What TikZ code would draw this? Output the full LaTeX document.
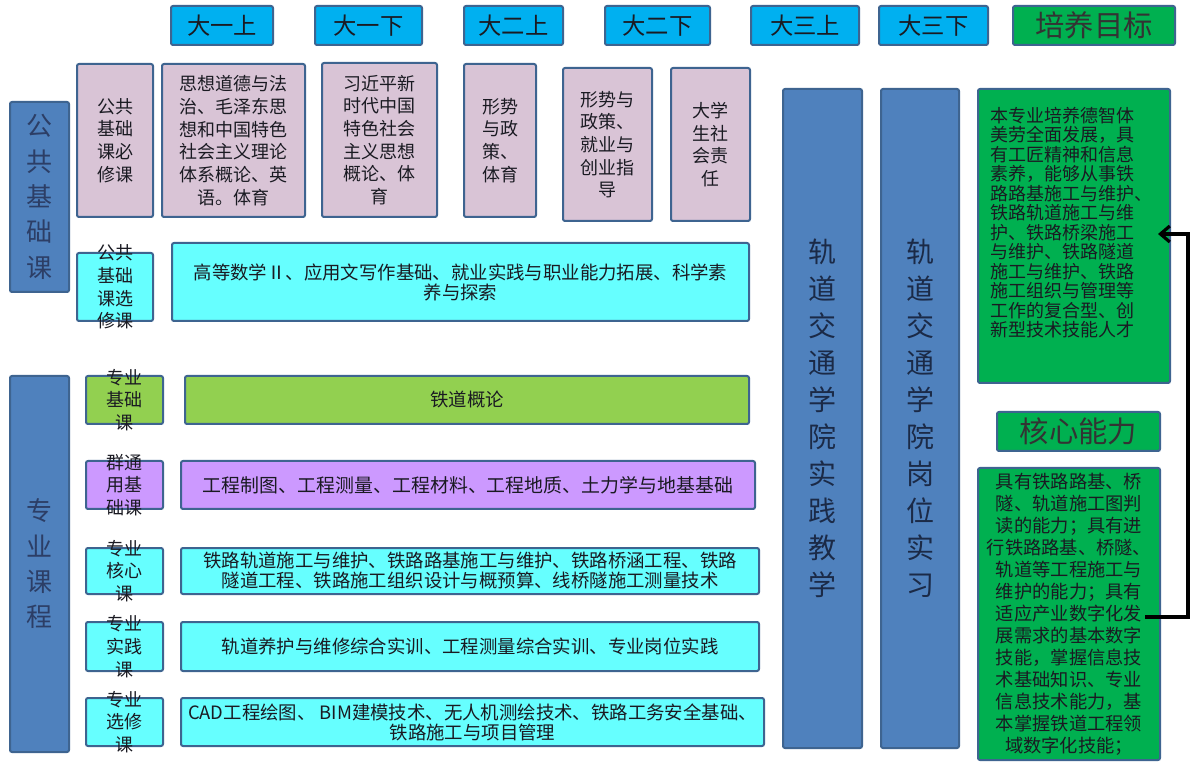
\documentclass[tikz,border=0pt]{standalone}
\usepackage{fontspec}
\setmainfont{Noto Sans CJK SC}
\usetikzlibrary{arrows.meta}
\definecolor{hdrblue}{HTML}{00B0F0}
\definecolor{goalgreen}{HTML}{00B050}
\definecolor{pinkfill}{RGB}{217,196,214}
\definecolor{cyanfill}{HTML}{66FFFF}
\definecolor{limefill}{HTML}{92D050}
\definecolor{purplefill}{HTML}{CC99FF}
\definecolor{colblue}{HTML}{4F81BD}
\definecolor{bordercol}{HTML}{3E6490}
\definecolor{bigtxt}{HTML}{2C3E66}
\definecolor{coltxt}{HTML}{1B2A47}
\definecolor{darktxt}{HTML}{1A1A22}
\newcommand\fHead{\fontsize{17.5pt}{20pt}\selectfont}
\newcommand\fBig{\fontsize{19.5pt}{26.5pt}\selectfont}
\newcommand\fCol{\fontsize{21pt}{27.75pt}\selectfont}
\newcommand\fTitle{\fontsize{22pt}{24pt}\selectfont}
\newcommand\fPink{\fontsize{13.5pt}{17pt}\selectfont}
\newcommand\fBar{\fontsize{13.8pt}{15pt}\selectfont}
\newcommand\fGoal{\fontsize{13.5pt}{14.6pt}\selectfont}
\newcommand\fAbil{\fontsize{13.7pt}{16.5pt}\selectfont}
\newcommand\mkbox[6]{\node[boxbase,#1,minimum width={(#4-#2)*0.75pt},minimum height={(#5-#3)*0.75pt},anchor=north west] (#6) at (#2,#3) {};}
\tikzset{
  boxbase/.style={draw=bordercol, line width=1.5pt, rounded corners=1.5pt, inner sep=0pt, outer sep=0pt},
  hdr/.style={fill=hdrblue},
  goal/.style={fill=goalgreen},
  pinkb/.style={fill=pinkfill},
  cyanb/.style={fill=cyanfill},
  limeb/.style={fill=limefill},
  purpb/.style={fill=purplefill},
  colb/.style={fill=colblue},
  txt/.style={align=center, inner sep=0pt, text=darktxt},
  conn/.style={draw=black, line width=2.4pt, -{Straight Barb[length=7pt,width=12pt,line width=2.4pt]}}
}
\begin{document}
\begin{tikzpicture}[x=0.75pt,y=-0.75pt]
\useasboundingbox[fill=white] (0,0) rectangle (1192,762);
% header row
\mkbox{hdr}{171}{6}{273}{45}{h1}
\mkbox{hdr}{315}{6}{422}{45}{h2}
\mkbox{hdr}{464}{6}{563}{45}{h3}
\mkbox{hdr}{605}{6}{710}{45}{h4}
\mkbox{hdr}{751}{6}{859}{45}{h5}
\mkbox{hdr}{879}{6}{988}{45}{h6}
\mkbox{goal}{1013}{6}{1175}{45}{h7}
\node[txt,font=\fHead] (h1t) at (h1) {大一上};
\node[txt,font=\fHead] (h2t) at (h2) {大一下};
\node[txt,font=\fHead] (h3t) at (h3) {大二上};
\node[txt,font=\fHead] (h4t) at (h4) {大二下};
\node[txt,font=\fHead] (h5t) at (h5) {大三上};
\node[txt,font=\fHead] (h6t) at (h6) {大三下};
\node[txt,font=\fTitle,text=black!80] (h7t) at (h7) {培养目标};
% left big labels
\mkbox{colb}{10}{102}{69}{292}{l1}
\mkbox{colb}{10}{376}{69}{752}{l2}
\node[txt,font=\fBig,text=bigtxt] (l1t) at (l1) {公\\共\\基\\础\\课};
\node[txt,font=\fBig,text=bigtxt] (l2t) at (l2) {专\\业\\课\\程};
% pink required courses
\mkbox{pinkb}{77}{64}{153}{217}{p0}
\mkbox{pinkb}{162}{64}{305}{217}{p1}
\mkbox{pinkb}{322}{63}{437}{217}{p2}
\mkbox{pinkb}{464}{64}{536}{217}{p3}
\mkbox{pinkb}{563}{68}{652}{221}{p4}
\mkbox{pinkb}{671}{68}{750}{221}{p5}
\node[txt,font=\fPink] (p0t) at (p0) {公共\\基础\\课必\\修课};
\node[txt,font=\fPink] (p1t) at (p1) {思想道德与法\\治、毛泽东思\\想和中国特色\\社会主义理论\\体系概论、英\\语。体育};
\node[txt,font=\fPink] (p2t) at (p2) {习近平新\\时代中国\\特色社会\\主义思想\\概论、体\\育};
\node[txt,font=\fPink] (p3t) at (p3) {形势\\与政\\策、\\体育};
\node[txt,font=\fPink] (p4t) at (p4) {形势与\\政策、\\就业与\\创业指\\导};
\node[txt,font=\fPink] (p5t) at (p5) {大学\\生社\\会责\\任};
% elective public
\mkbox{cyanb}{77}{253}{153}{321}{s1}
\mkbox{cyanb}{172}{243}{749}{321}{b1}
\node[txt,font=\fPink] (s1t) at (s1) {公共\\基础\\课选\\修课};
\node[txt,font=\fBar] (b1t) at (b1) {高等数学Ⅱ、应用文写作基础、就业实践与职业能力拓展、科学素\\养与探索};
% professional rows
\mkbox{limeb}{86}{376}{163}{424}{s2}
\mkbox{limeb}{185}{376}{749}{424}{b2}
\mkbox{purpb}{86}{461}{163}{509}{s3}
\mkbox{purpb}{181}{461}{755}{509}{b3}
\mkbox{cyanb}{86}{548}{163}{594}{s4}
\mkbox{cyanb}{181}{548}{759}{594}{b4}
\mkbox{cyanb}{86}{622}{163}{671}{s5}
\mkbox{cyanb}{181}{622}{759}{671}{b5}
\mkbox{cyanb}{86}{698}{163}{746}{s6}
\mkbox{cyanb}{181}{698}{764}{746}{b6}
\node[txt,font=\fPink] (s2t) at (s2) {专业\\基础\\课};
\node[txt,font=\fPink] (s3t) at (s3) {群通\\用基\\础课};
\node[txt,font=\fPink] (s4t) at (s4) {专业\\核心\\课};
\node[txt,font=\fPink] (s5t) at (s5) {专业\\实践\\课};
\node[txt,font=\fPink] (s6t) at (s6) {专业\\选修\\课};
\node[txt,font=\fBar] (b2t) at (b2) {铁道概论};
\node[txt,font=\fontsize{14.2pt}{15pt}\selectfont] (b3t) at (b3) {工程制图、工程测量、工程材料、工程地质、土力学与地基基础};
\node[txt,font=\fBar] (b4t) at (b4) {铁路轨道施工与维护、铁路路基施工与维护、铁路桥涵工程、铁路\\隧道工程、铁路施工组织设计与概预算、线桥隧施工测量技术};
\node[txt,font=\fBar] (b5t) at (b5) {轨道养护与维修综合实训、工程测量综合实训、专业岗位实践};
\node[txt,font=\fBar] (b6t) at (b6) {CAD工程绘图、 BIM建模技术、无人机测绘技术、铁路工务安全基础、\\铁路施工与项目管理};
% vertical columns
\mkbox{colb}{783}{89}{862}{748}{v1}
\mkbox{colb}{881}{89}{959}{748}{v2}
\node[txt,font=\fCol,text=coltxt] (v1t) at (v1) {轨\\道\\交\\通\\学\\院\\实\\践\\教\\学};
\node[txt,font=\fCol,text=coltxt] (v2t) at (v2) {轨\\道\\交\\通\\学\\院\\岗\\位\\实\\习};
% right green boxes
\mkbox{goal}{978}{89}{1170}{383}{g1}
\mkbox{goal}{997}{412}{1160}{451}{g2}
\mkbox{goal}{978}{468}{1160}{760}{g3}
\node[txt,font=\fGoal,align=left,anchor=west] (g1t) at (990,222.5) {本专业培养德智体\\美劳全面发展，具\\有工匠精神和信息\\素养，能够从事铁\\路路基施工与维护、\\铁路轨道施工与维\\护、铁路桥梁施工\\与维护、铁路隧道\\施工与维护、铁路\\施工组织与管理等\\工作的复合型、创\\新型技术技能人才};
\node[txt,font=\fTitle,text=black!80] (g2t) at (g2) {核心能力};
\node[txt,font=\fAbil] (g3t) at (1069,614) {具有铁路路基、桥\\隧、轨道施工图判\\读的能力；具有进\\行铁路路基、桥隧、\\轨道等工程施工与\\维护的能力；具有\\适应产业数字化发\\展需求的基本数字\\技能，掌握信息技\\术基础知识、专业\\信息技术能力，基\\本掌握铁道工程领\\域数字化技能；};
% connector
\coordinate (ya) at (0,617);
\coordinate (yb) at (0,234);
\coordinate (turn) at (1188,617);
\draw[conn, shorten <=-11pt, shorten >=-9pt] (g3.east |- ya) -- (turn) |- (g1.east |- yb);
\end{tikzpicture}
\end{document}
